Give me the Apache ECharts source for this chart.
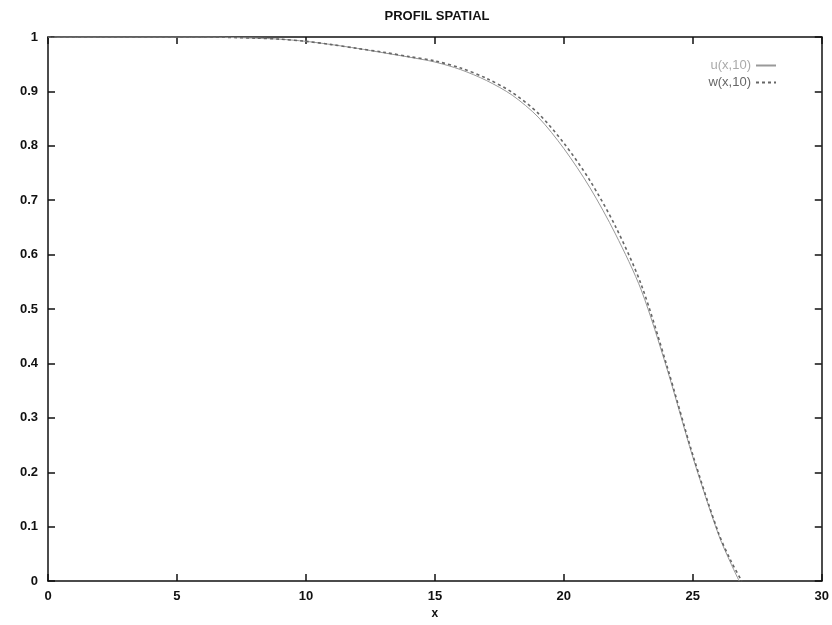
<!DOCTYPE html>
<html>
<head>
<meta charset="utf-8">
<script src="https://cdn.jsdelivr.net/npm/echarts@6/dist/echarts.min.js"></script>
<style>html,body{margin:0;padding:0;background:#fff}#c{width:832px;height:625px}</style>
</head>
<body>
<div id="c"></div>
<script>
const titleText = 'PROFIL SPATIAL';
const xName = 'x';
const seriesNames = ['u(x,10)', 'w(x,10)'];
const xTicks = [0, 5, 10, 15, 20, 25, 30];
const yTicks = [0, 0.1, 0.2, 0.3, 0.4, 0.5, 0.6, 0.7, 0.8, 0.9, 1];

const uX = [0, 2, 4, 6, 8, 9, 10, 11, 12, 13, 14, 15, 16, 17, 18, 19, 20, 21, 22, 23, 24, 25, 26, 26.5, 26.8];
const uY = [1, 1, 1, 1, 0.998, 0.996, 0.992, 0.986, 0.979, 0.971, 0.963, 0.954, 0.94, 0.92, 0.893, 0.853, 0.795, 0.724, 0.638, 0.535, 0.39, 0.228, 0.085, 0.03, 0];
const wX = [0, 2, 4, 6, 8, 9, 10, 11, 12, 13, 14, 15, 16, 17, 18, 19, 20, 21, 22, 23, 24, 25, 26, 26.5, 26.9];
const wY = [1, 1, 1, 1, 0.998, 0.996, 0.992, 0.986, 0.979, 0.972, 0.964, 0.956, 0.943, 0.924, 0.898, 0.86, 0.805, 0.737, 0.652, 0.545, 0.395, 0.232, 0.088, 0.035, 0];

const pair = (xs, ys) => xs.map((x, i) => [x, ys[i]]);
const fontFam = '"Liberation Sans", Arial, sans-serif';

const chart = echarts.init(document.getElementById('c'), null, {renderer: 'canvas'});
const axisLineStyle = {color: '#111', width: 1.5};
const baseX = {
  type: 'value', min: xTicks[0], max: xTicks[xTicks.length - 1], interval: 5,
  splitLine: {show: false},
  axisLine: {show: true, lineStyle: axisLineStyle, onZero: false},
  axisTick: {show: true, inside: true, length: 7, lineStyle: {color: '#111', width: 1.5}},
};
const baseY = {
  type: 'value', min: yTicks[0], max: yTicks[yTicks.length - 1], interval: 0.1,
  splitLine: {show: false},
  axisLine: {show: true, lineStyle: axisLineStyle, onZero: false},
  axisTick: {show: true, inside: true, length: 7, lineStyle: {color: '#111', width: 1.5}},
};

chart.setOption({
  animation: false,
  backgroundColor: '#fff',
  title: {
    text: titleText, left: 432, top: 5, textAlign: 'center',
    textStyle: {fontFamily: fontFam, fontSize: 13, fontWeight: 'bold', color: '#111'}
  },
  legend: {
    orient: 'vertical', right: 50, top: 54, align: 'right', itemGap: 4,
    itemWidth: 20, itemHeight: 10,
    itemStyle: {opacity: 0},
    textStyle: {fontFamily: fontFam, fontSize: 13, color: '#777'},
    data: [
      {name: seriesNames[0], textStyle: {color: '#aaa'}},
      {name: seriesNames[1], textStyle: {color: '#666'}}
    ]
  },
  grid: {left: 48, right: 10, top: 37, bottom: 39, containLabel: false},
  xAxis: [
    Object.assign({}, baseX, {
      position: 'bottom', name: xName, nameLocation: 'middle', nameGap: 22,
      nameTextStyle: {fontFamily: fontFam, fontSize: 12, fontWeight: 'bold', color: '#111'},
      axisLabel: {fontFamily: fontFam, fontSize: 13, fontWeight: 'bold', color: '#111', margin: 9}
    }),
    Object.assign({}, baseX, {position: 'top', axisLabel: {show: false}})
  ],
  yAxis: [
    Object.assign({}, baseY, {
      position: 'left',
      axisLabel: {fontFamily: fontFam, fontSize: 13, fontWeight: 'bold', color: '#111', margin: 10,
        formatter: v => String(Math.round(v * 10) / 10)}
    }),
    Object.assign({}, baseY, {position: 'right', axisLabel: {show: false}})
  ],
  series: [
    {
      name: seriesNames[0], type: 'line', data: pair(uX, uY), smooth: 0.3, showSymbol: false,
      symbol: 'none',
      itemStyle: {color: '#aaa'},
      lineStyle: {color: '#999', width: 1, type: 'solid'}, z: 3
    },
    {
      name: seriesNames[1], type: 'line', data: pair(wX, wY), smooth: 0.3, showSymbol: false,
      symbol: 'none',
      itemStyle: {color: '#666'},
      lineStyle: {color: '#666', width: 1.6, type: [3, 3]}, z: 4
    }
  ]
});
</script>
</body>
</html>
